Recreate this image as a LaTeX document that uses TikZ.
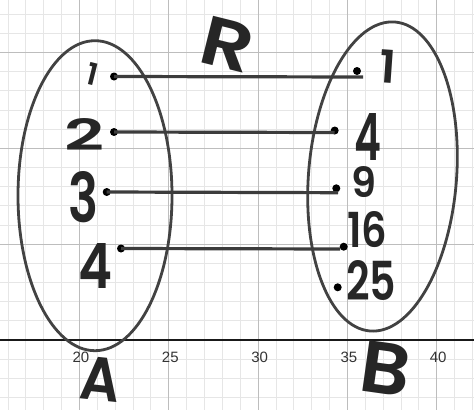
\documentclass[tikz,border=0pt]{standalone}
\usepackage{fontspec}
\usepackage{graphicx}
\newfontfamily\hwfont{Poppins SemiBold}
\newfontfamily\tickfont{Liberation Sans}
\newcommand{\hwtext}[3]{\resizebox{#1}{#2}{\hwfont #3}}
\definecolor{minorgrid}{HTML}{E6E6E6}
\definecolor{majorgrid}{HTML}{BDBDBD}
\definecolor{ink}{HTML}{262626}
\definecolor{ovalink}{HTML}{424242}
\tikzset{
  minorline/.style={draw=minorgrid, line width=0.9pt},
  majorline/.style={draw=majorgrid, line width=1.2pt},
  axisline/.style={draw=black!90, line width=1.5pt},
  ticklabel/.style={font=\tickfont\fontsize{15}{15}\selectfont, text=black!80, inner sep=0pt},
  oval/.style={draw=ovalink, line width=2.8pt},
  arrowline/.style={draw=ink!90, line width=3.2pt},
  dot/.style={circle, fill=black, inner sep=0pt, minimum size=8pt},
  hw/.style={inner sep=0pt, text=ink}
}
\begin{document}
\begin{tikzpicture}[x=1pt, y=-1pt]
\useasboundingbox (0,0) rectangle (474,410);
\fill[white] (0,0) rectangle (474,410);
% minor grid
\foreach \k in {-4,...,22} \draw[minorline] ({79.5+17.86*\k},0) -- ({79.5+17.86*\k},410);
\foreach \j in {-3,...,17} \draw[minorline] (0,{340-19.17*\j}) -- (474,{340-19.17*\j});
% major grid
\foreach \k in {0,5,10,15,20} \draw[majorline] ({79.5+17.86*\k},0) -- ({79.5+17.86*\k},410);
\foreach \j in {5,10,15} \draw[majorline] (0,{340-19.17*\j}) -- (474,{340-19.17*\j});
% axis
\draw[axisline] (0,340) -- (474,340);
% tick labels
\foreach \k/\v in {0/20,5/25,10/30,15/35,20/40}
  \node[ticklabel] (t\v) at ({81+17.86*\k},357) {\v};
% ovals
\draw[oval] (95,195.7) ellipse [x radius=77pt, y radius=155pt];
\draw[oval, rotate around={-4.6:(382.5,176.5)}] (382.5,176.5) ellipse [x radius=74pt, y radius=155pt];
% dots
\node[dot] (l1) at (114,76.5) {};
\node[dot] (l2) at (114,132) {};
\node[dot] (l3) at (106.7,192) {};
\node[dot] (l4) at (121,248.5) {};
\node[dot] (r1) at (357,71) {};
\node[dot] (r2) at (334.7,130.5) {};
\node[dot] (r3) at (336.3,188.3) {};
\node[dot] (r4) at (343.7,246.7) {};
\node[dot] (r5) at (337.7,287.3) {};
\coordinate (e1) at (363,77);
\coordinate (e2) at (334.7,132.5);
\coordinate (e3) at (338,192.7);
\coordinate (e4) at (340,249);
% connectors
\draw[arrowline] (l1.center) -- (e1);
\draw[arrowline] (l2.center) -- (e2);
\draw[arrowline] (l3.center) -- (e3);
\draw[arrowline] (l4.center) -- (e4);
% handwritten labels
\node[hw, rotate=-14] (R) at (228,44) {\hwtext{52pt}{48pt}{R}};
\node[hw, rotate=-14] (a1) at (92.5,74) {\hwtext{!}{22pt}{1}};
\node[hw] (a2) at (85,134) {\hwtext{40pt}{32pt}{2}};
\node[hw] (a3) at (84,197) {\hwtext{30pt}{51pt}{3}};
\node[hw] (a4) at (96,265.5) {\hwtext{34pt}{45pt}{4}};
\node[hw, rotate=-4] (b1) at (387.5,66.5) {\hwtext{!}{33pt}{1}};
\node[hw] (b4) at (367.5,136.5) {\hwtext{27pt}{47pt}{4}};
\node[hw] (b9) at (363.5,182.5) {\hwtext{25pt}{31pt}{9}};
\node[hw] (b16) at (367,230) {\hwtext{40pt}{36pt}{16}};
\node[hw] (b25) at (371,280) {\hwtext{50pt}{40pt}{25}};
\node[hw, rotate=-6] (A) at (101,379) {\hwtext{40pt}{43pt}{A}};
\node[hw, rotate=-8] (B) at (386,368.5) {\hwtext{50pt}{51pt}{B}};
\end{tikzpicture}
\end{document}
